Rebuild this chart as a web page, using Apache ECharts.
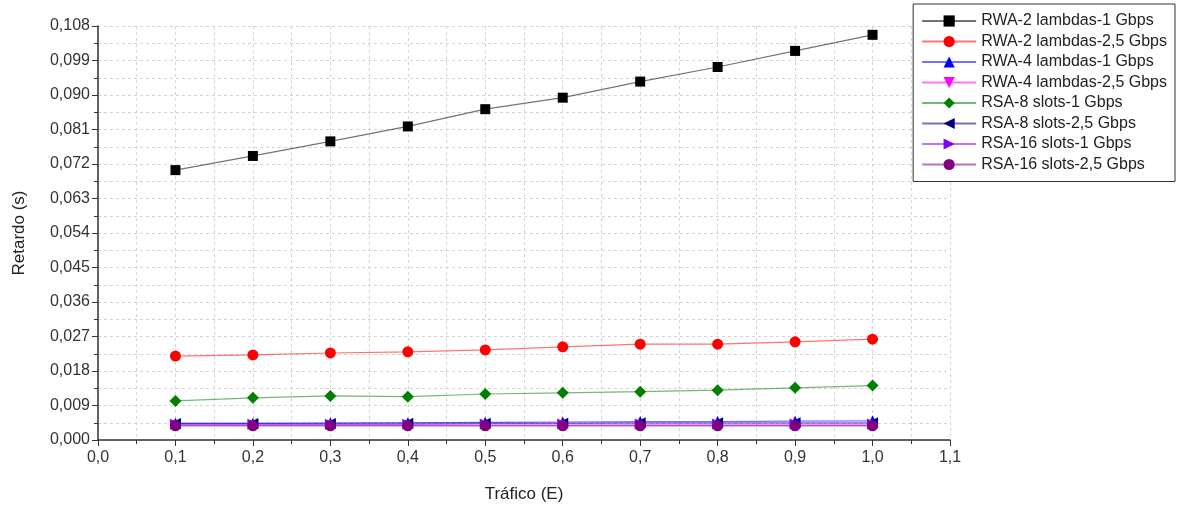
<!DOCTYPE html>
<html>
<head>
<meta charset="utf-8">
<script src="https://cdn.jsdelivr.net/npm/echarts@6/dist/echarts.min.js"></script>
<style>
  html, body { margin: 0; padding: 0; background: #fff; }
  #chart { width: 1181px; height: 511px; }
</style>
</head>
<body>
<div id="chart"></div>
<script>
// tráfico (E)
const traffic = [0.1, 0.2, 0.3, 0.4, 0.5, 0.6, 0.7, 0.8, 0.9, 1.0]

// retardo (s) por serie
const rwa2_1g = [0.0704, 0.0741, 0.0779, 0.0818, 0.0863, 0.0893, 0.0935, 0.0973, 0.1015, 0.1057]
const rwa2_25g = [0.0219, 0.0222, 0.0227, 0.0230, 0.0235, 0.0243, 0.0250, 0.0250, 0.0256, 0.0263]
const rwa4_1g = [0.0044, 0.0044, 0.0045, 0.0045, 0.0046, 0.0047, 0.0048, 0.0048, 0.0049, 0.0050]
const rwa4_25g = [0.0038, 0.0038, 0.0038, 0.0038, 0.0038, 0.0038, 0.0038, 0.0038, 0.0038, 0.0038]
const rsa8_1g = [0.0102, 0.0110, 0.0115, 0.0113, 0.0120, 0.0123, 0.0126, 0.0130, 0.0136, 0.0142]
const rsa8_25g = [0.0043, 0.0043, 0.0043, 0.0044, 0.0044, 0.0044, 0.0045, 0.0045, 0.0045, 0.0045]
const rsa16_1g = [0.0041, 0.0041, 0.0041, 0.0041, 0.0042, 0.0042, 0.0042, 0.0042, 0.0042, 0.0042]
const rsa16_25g = [0.0037, 0.0037, 0.0037, 0.0037, 0.0037, 0.0037, 0.0037, 0.0037, 0.0037, 0.0037]

const seriesNames = [
    'RWA-2 lambdas-1 Gbps', 'RWA-2 lambdas-2,5 Gbps',
    'RWA-4 lambdas-1 Gbps', 'RWA-4 lambdas-2,5 Gbps',
    'RSA-8 slots-1 Gbps', 'RSA-8 slots-2,5 Gbps',
    'RSA-16 slots-1 Gbps', 'RSA-16 slots-2,5 Gbps'
]
const seriesValues = [rwa2_1g, rwa2_25g, rwa4_1g, rwa4_25g, rsa8_1g, rsa8_25g, rsa16_1g, rsa16_25g]

const styles = [
    { color: '#000000', symbol: 'rect', rotate: 0, size: 10 },
    { color: '#ff0000', symbol: 'circle', rotate: 0, size: 11 },
    { color: '#0000ff', symbol: 'triangle', rotate: 0, size: 11 },
    { color: '#ff00ff', symbol: 'triangle', rotate: 180, size: 11 },
    { color: '#008000', symbol: 'diamond', rotate: 0, size: 12 },
    { color: '#000080', symbol: 'triangle', rotate: 90, size: 11 },
    { color: '#8000ff', symbol: 'triangle', rotate: -90, size: 11 },
    { color: '#800080', symbol: 'circle', rotate: 0, size: 11 }
]

const comma = (v, d) => v.toFixed(d).replace('.', ',')

let chart = echarts.init(document.getElementById('chart'))

const gridLine = { show: true, lineStyle: { color: '#d4d4d4', type: [3, 3], width: 1 } }

chart.setOption({
    backgroundColor: '#fff',
    animation: false,
    grid: { left: 98, top: 26, width: 852, height: 414 },
    legend: {
        right: 6,
        top: 4,
        orient: 'vertical',
        backgroundColor: '#fff',
        borderColor: '#333',
        borderWidth: 1,
        padding: [9, 8, 9, 8],
        itemWidth: 54,
        itemHeight: 14,
        itemGap: 4.5,
        textStyle: { fontFamily: 'Liberation Sans, Arial', fontSize: 16, color: '#222' },
        data: seriesNames
    },
    xAxis: {
        type: 'value',
        min: 0,
        max: 1.1,
        interval: 0.1,
        name: 'Tráfico (E)',
        nameLocation: 'middle',
        nameGap: 46,
        nameTextStyle: { fontFamily: 'Liberation Sans, Arial', fontSize: 17, color: '#222' },
        axisLine: { lineStyle: { color: '#333', width: 1.5 } },
        axisTick: { show: true, inside: false, length: 6, lineStyle: { color: '#333' } },
        minorTick: { show: true, splitNumber: 2, length: 4, lineStyle: { color: '#333' } },
        axisLabel: {
            fontFamily: 'Liberation Sans Narrow, Liberation Sans, Arial',
            fontSize: 16,
            color: '#333',
            margin: 10,
            formatter: v => comma(v, 1)
        },
        splitLine: gridLine,
        minorSplitLine: gridLine
    },
    yAxis: {
        type: 'value',
        min: 0,
        max: 0.108,
        interval: 0.009,
        name: 'Retardo (s)',
        nameLocation: 'middle',
        nameGap: 70,
        nameTextStyle: { fontFamily: 'Liberation Sans, Arial', fontSize: 17, color: '#222' },
        axisLine: { show: true, lineStyle: { color: '#333', width: 1.5 } },
        axisTick: { show: true, inside: false, length: 6, lineStyle: { color: '#333' } },
        minorTick: { show: true, splitNumber: 2, length: 4, lineStyle: { color: '#333' } },
        axisLabel: {
            fontFamily: 'Liberation Sans, Arial',
            fontSize: 16,
            color: '#333',
            margin: 8,
            formatter: v => comma(v, 3)
        },
        splitLine: gridLine,
        minorSplitLine: gridLine
    },
    series: seriesNames.map((name, i) => ({
        name,
        type: 'line',
        data: traffic.map((t, j) => [t, seriesValues[i][j]]),
        symbol: styles[i].symbol,
        symbolRotate: styles[i].rotate,
        symbolSize: styles[i].size,
        showAllSymbol: true,
        color: styles[i].color,
        itemStyle: { color: styles[i].color },
        lineStyle: { color: styles[i].color, width: 1.2, opacity: 0.55 }
    }))
})
</script>
</body>
</html>
